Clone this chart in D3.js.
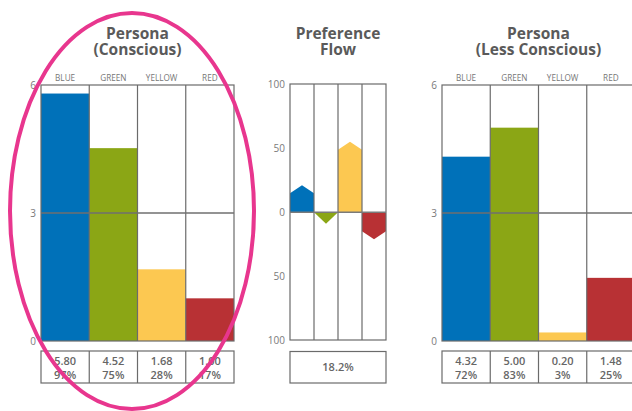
<!DOCTYPE html>
<html>
<head>
<meta charset="utf-8">
<script src="https://cdn.jsdelivr.net/npm/d3@7"></script>
<style>
  html, body { margin: 0; padding: 0; background: #fff; }
  svg { display: block; font-family: "Open Sans", "Noto Sans", sans-serif; }
</style>
</head>
<body>
<svg id="chart" width="632" height="411"></svg>
<script>
// Colour categories shared by all three panels
const categories = ["BLUE", "GREEN", "YELLOW", "RED"];
const colors = ["#0071b9", "#8ba615", "#fcc851", "#b83134"];

// Persona scores (0–6) and share of maximum
const consciousValues = [5.80, 4.52, 1.68, 1.00];
const consciousPct = ["97%", "75%", "28%", "17%"];
const lessConsciousValues = [4.32, 5.00, 0.20, 1.48];
const lessConsciousPct = ["72%", "83%", "3%", "25%"];
const personaTicks = [0, 3, 6];

// Preference flow per colour (arrow tip, -100..100)
const flowValues = [21, -9, 55, -21];
const flowTicks = [-100, -50, 0, 50, 100];
const flowSummary = "18.2%";

const svg = d3.select("#chart");
const frameColor = "#6b6b6b";
const textColor = "#666666";
const plotTop = 85, plotBottom = 341;

// Two-line panel heading, one text element per line
function title(cx, lines) {
  lines.forEach((s, i) => svg.append("text")
    .attr("x", cx).attr("y", 38.5 + i * 16)
    .attr("text-anchor", "middle")
    .attr("fill", "#5a5a5a")
    .attr("font-size", 15.5)
    .attr("font-weight", 700)
    .text(s));
}

function personaPanel(x0, x1, name, values, pcts) {
  const x = d3.scaleBand().domain(categories).range([x0, x1]).padding(0);
  const y = d3.scaleLinear().domain([0, 6]).range([plotBottom, plotTop]);
  const g = svg.append("g");

  title((x0 + x1) / 2, name);

  // Category labels
  g.selectAll("text.cat").data(categories).join("text")
    .attr("class", "cat")
    .attr("x", d => x(d) + x.bandwidth() / 2)
    .attr("y", 81)
    .attr("text-anchor", "middle")
    .attr("font-size", 8.2)
    .attr("fill", "#777")
    .text(d => d);

  // Bars
  g.selectAll("rect.bar").data(values).join("rect")
    .attr("class", "bar")
    .attr("x", (d, i) => x(categories[i]))
    .attr("width", x.bandwidth())
    .attr("y", d => y(d))
    .attr("height", d => y(0) - y(d))
    .attr("fill", (d, i) => colors[i]);

  // Frame, column dividers and mid line
  g.append("rect").attr("x", x0).attr("y", plotTop).attr("width", x1 - x0).attr("height", plotBottom - plotTop)
    .attr("fill", "none").attr("stroke", frameColor).attr("stroke-width", 1.2);
  g.selectAll("line.div").data(categories.slice(1)).join("line")
    .attr("class", "div")
    .attr("x1", d => x(d)).attr("x2", d => x(d))
    .attr("y1", plotTop).attr("y2", plotBottom)
    .attr("stroke", frameColor).attr("stroke-width", 1.2);
  g.append("line").attr("x1", x0).attr("x2", x1).attr("y1", y(3)).attr("y2", y(3))
    .attr("stroke", "#6f6f6f").attr("stroke-width", 1.4);

  // Axis
  const axis = d3.axisLeft(y).tickValues(personaTicks).tickSize(0).tickPadding(5).tickFormat(d3.format("d"));
  const ax = g.append("g").attr("transform", `translate(${x0},0)`).call(axis);
  ax.select(".domain").remove();
  ax.selectAll("text").attr("font-size", 10).attr("fill", "#7a7a7a").attr("font-family", "Open Sans, sans-serif");

  // Value table
  const ty0 = 351, ty1 = 383;
  g.append("rect").attr("x", x0).attr("y", ty0).attr("width", x1 - x0).attr("height", ty1 - ty0)
    .attr("fill", "none").attr("stroke", frameColor).attr("stroke-width", 1.2);
  g.selectAll("line.tdiv").data(categories.slice(1)).join("line")
    .attr("class", "tdiv")
    .attr("x1", d => x(d)).attr("x2", d => x(d))
    .attr("y1", ty0).attr("y2", ty1)
    .attr("stroke", frameColor).attr("stroke-width", 1.2);
  const cells = g.selectAll("text.val").data(values).join("text")
    .attr("class", "val")
    .attr("text-anchor", "middle")
    .attr("font-size", 11)
    .attr("font-weight", 600)
    .attr("fill", textColor);
  cells.append("tspan").attr("x", (d, i) => x(categories[i]) + x.bandwidth() / 2).attr("y", 365)
    .text(d => d.toFixed(2));
  cells.append("tspan").attr("x", (d, i) => x(categories[i]) + x.bandwidth() / 2).attr("y", 379)
    .text((d, i) => pcts[i]);
}

function flowPanel(x0, x1) {
  const x = d3.scaleBand().domain(categories).range([x0, x1]).padding(0);
  const y = d3.scaleLinear().domain([-100, 100]).range([plotBottom - 0.5, plotTop - 1]);
  const g = svg.append("g");
  title((x0 + x1) / 2, ["Preference", "Flow"]);

  // Arrows: shaft from zero, pointed head at the value
  const head = 8;
  const arrow = (v, i) => {
    const xl = x(categories[i]), xr = xl + x.bandwidth(), xm = (xl + xr) / 2;
    const y0 = y(0), yt = y(v);
    const dir = v >= 0 ? 1 : -1;
    const h = Math.abs(y0 - yt);
    if (h <= head * 1.6) {
      return `M${xl},${y0}L${xr},${y0}L${xm},${yt}Z`;
    }
    const yb = yt + dir * head;
    return `M${xl},${y0}L${xl},${yb}L${xm},${yt}L${xr},${yb}L${xr},${y0}Z`;
  };
  g.selectAll("path.arrow").data(flowValues).join("path")
    .attr("class", "arrow")
    .attr("d", arrow)
    .attr("fill", (d, i) => colors[i]);

  g.append("rect").attr("x", x0).attr("y", plotTop - 1).attr("width", x1 - x0).attr("height", plotBottom - plotTop)
    .attr("fill", "none").attr("stroke", frameColor).attr("stroke-width", 1.2);
  g.selectAll("line.div").data(categories.slice(1)).join("line")
    .attr("class", "div")
    .attr("x1", d => x(d)).attr("x2", d => x(d))
    .attr("y1", plotTop - 1).attr("y2", plotBottom - 1)
    .attr("stroke", frameColor).attr("stroke-width", 1.2);
  g.append("line").attr("x1", x0).attr("x2", x1).attr("y1", y(0)).attr("y2", y(0))
    .attr("stroke", "#7a7a7a").attr("stroke-width", 1.5);

  const axis = d3.axisLeft(y).tickValues(flowTicks).tickSize(0).tickPadding(5).tickFormat(d => Math.abs(d));
  const ax = g.append("g").attr("transform", `translate(${x0},0)`).call(axis);
  ax.select(".domain").remove();
  ax.selectAll("text").attr("font-size", 10).attr("fill", "#7a7a7a").attr("font-family", "Open Sans, sans-serif");

  const ty0 = 351.5, ty1 = 383;
  g.append("rect").attr("x", x0).attr("y", ty0).attr("width", x1 - x0).attr("height", ty1 - ty0)
    .attr("fill", "none").attr("stroke", frameColor).attr("stroke-width", 1.2);
  g.append("text").attr("x", (x0 + x1) / 2).attr("y", 371)
    .attr("text-anchor", "middle").attr("font-size", 11).attr("font-weight", 600)
    .attr("fill", textColor).text(flowSummary);
}

personaPanel(41, 234, ["Persona", "(Conscious)"], consciousValues, consciousPct);
flowPanel(290, 386);
personaPanel(442, 635, ["Persona", "(Less Conscious)"], lessConsciousValues, lessConsciousPct);

// Highlight ring around the conscious persona
svg.append("ellipse")
  .attr("cx", 132).attr("cy", 211).attr("rx", 122).attr("ry", 198)
  .attr("fill", "none").attr("stroke", "#e8368e").attr("stroke-width", 4);
</script>
</body>
</html>
